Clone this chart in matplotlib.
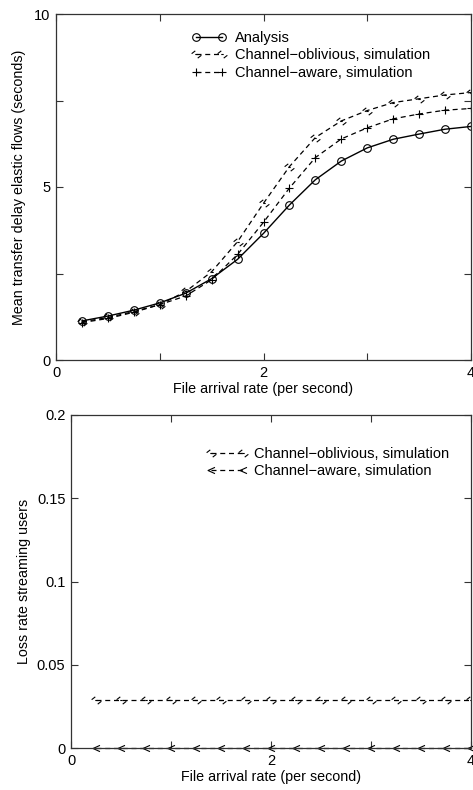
import matplotlib

matplotlib.use("Agg")
import matplotlib.pyplot as plt
import numpy as np
from matplotlib.path import Path
from matplotlib.ticker import MultipleLocator

plt.rcParams["font.family"] = ["Liberation Sans", "DejaVu Sans"]
plt.rcParams["font.size"] = 10.3

# file arrival rate (per second)
rate = [0.25, 0.5, 0.75, 1.0, 1.25, 1.5, 1.75, 2.0,
        2.25, 2.5, 2.75, 3.0, 3.25, 3.5, 3.75, 4.0]

# mean transfer delay of elastic flows (seconds)
delay_analysis = [1.13, 1.27, 1.44, 1.65, 1.93, 2.35, 2.91, 3.66,
                  4.48, 5.21, 5.75, 6.13, 6.38, 6.53, 6.67, 6.75]
delay_oblivious = [1.10, 1.23, 1.40, 1.60, 1.98, 2.55, 3.42, 4.53,
                   5.59, 6.43, 6.91, 7.21, 7.44, 7.55, 7.66, 7.73]
delay_aware = [1.08, 1.20, 1.38, 1.60, 1.85, 2.32, 3.05, 3.98,
               4.97, 5.85, 6.39, 6.71, 6.97, 7.11, 7.22, 7.27]

# loss rate of streaming users
loss_oblivious = [0.029] * 16
loss_aware = [0.0] * 16

zig = Path([(-0.6, 0.1), (-0.15, 0.45), (-0.15, 0.0), (0.15, 0.0),
            (0.15, -0.45), (0.6, -0.1)],
           [Path.MOVETO, Path.LINETO, Path.MOVETO, Path.LINETO,
            Path.MOVETO, Path.LINETO])
chevron = Path([(0.5, 0.45), (-0.5, 0.0), (0.5, -0.45)],
               [Path.MOVETO, Path.LINETO, Path.LINETO])

dash = (0, (4, 3))
spine_col = "#333333"


def style_axes(ax):
    for s in ax.spines.values():
        s.set_linewidth(0.9)
        s.set_color(spine_col)
    ax.tick_params(which="both", direction="in", top=True, right=True,
                   color=spine_col, width=0.8, labelsize=10.5, pad=4)
    ax.tick_params(which="major", length=5)
    ax.tick_params(which="minor", length=5)


fig = plt.figure(figsize=(4.73, 7.90), dpi=100)

# top panel
ax1 = fig.add_axes([56 / 473, 1 - 360 / 790, 415 / 473, 346 / 790])
ax1.plot(rate, delay_analysis, color="black", lw=1.0, marker="o", ms=5.5,
         mfc="none", mec="black", mew=0.8, label="Analysis")
ax1.plot(rate, delay_oblivious, color="black", lw=0.9, ls=dash, marker=zig,
         ms=7, mfc="none", mew=0.8, label="Channel\u2212oblivious, simulation")
ax1.plot(rate, delay_aware, color="black", lw=0.9, ls=dash, marker="+",
         ms=5.5, mew=0.8, label="Channel\u2212aware, simulation")
ax1.set_xlim(0, 4)
ax1.set_ylim(0, 10)
ax1.xaxis.set_major_locator(MultipleLocator(2))
ax1.xaxis.set_minor_locator(MultipleLocator(1))
ax1.yaxis.set_major_locator(MultipleLocator(5))
ax1.yaxis.set_minor_locator(MultipleLocator(2.5))
ax1.set_xlabel("File arrival rate (per second)", labelpad=2)
ax1.set_ylabel("Mean transfer delay elastic flows (seconds)", labelpad=6)
style_axes(ax1)
ax1.legend(loc="upper left", bbox_to_anchor=(0.327, 0.952), frameon=False,
           numpoints=2, handlelength=2.4, handletextpad=0.6,
           labelspacing=0.25, borderpad=0, borderaxespad=0, fontsize=10.5)

# bottom panel
ax2 = fig.add_axes([71 / 473, 1 - 748 / 790, 400 / 473, 333 / 790])
ax2.plot(rate, loss_oblivious, color="black", lw=0.9, ls=dash, marker=zig,
         ms=7, mfc="none", mew=0.8, label="Channel\u2212oblivious, simulation")
ax2.plot(rate, loss_aware, color="black", lw=0.9, ls=dash, marker=chevron,
         ms=5, mfc="none", mew=0.8, label="Channel\u2212aware, simulation",
         clip_on=False)
ax2.set_xlim(0, 4)
ax2.set_ylim(0, 0.2)
ax2.xaxis.set_major_locator(MultipleLocator(2))
ax2.xaxis.set_minor_locator(MultipleLocator(1))
ax2.set_yticks([0, 0.05, 0.1, 0.15, 0.2])
ax2.set_yticklabels(["0", "0.05", "0.1", "0.15", "0.2"])
ax2.set_xlabel("File arrival rate (per second)", labelpad=2)
ax2.set_ylabel("Loss rate streaming users", labelpad=4)
style_axes(ax2)
ax2.legend(loc="upper left", bbox_to_anchor=(0.34, 0.905), frameon=False,
           numpoints=2, handlelength=2.8, handletextpad=0.4,
           labelspacing=0.25, borderpad=0, borderaxespad=0, fontsize=10.5)

fig.savefig("out.png", dpi=100)
